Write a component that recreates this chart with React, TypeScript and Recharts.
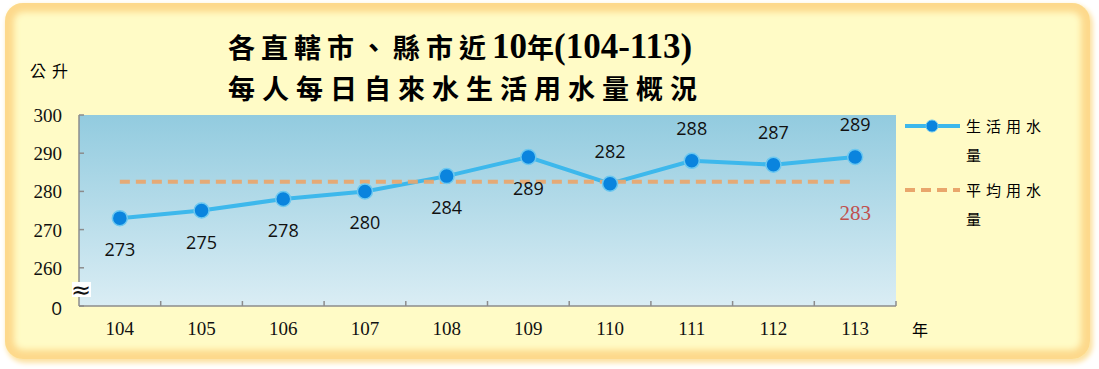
import React from "react";
import { LineChart, Line, XAxis, YAxis, CartesianGrid, LabelList } from "recharts";

// 年度 (民國)
const years = ["104", "105", "106", "107", "108", "109", "110", "111", "112", "113"];
// 每人每日生活用水量 (公升)
const usage = [273, 275, 278, 280, 284, 289, 282, 288, 287, 289];
// 平均用水量
const average = [282.5, 282.5, 282.5, 282.5, 282.5, 282.5, 282.5, 282.5, 282.5, 282.5];
const averageLabel = "283";
// 數字標籤放在點的上方或下方
const labelPos = ["below", "below", "below", "below", "below", "below", "above", "above", "above", "above"];
const yTicks = [250, 260, 270, 280, 290, 300];

const data = years.map((y, i) => ({ year: y, usage: usage[i], average: average[i] }));

const PLOT_W = 817;
const BAND = PLOT_W / years.length;
const AXIS = "#8c8c8c";
const CJK = "'Noto Sans CJK TC', 'Noto Sans CJK SC', sans-serif";
const SERIF = "'Liberation Serif', 'Noto Sans CJK TC', serif";

function XTick(props: any) {
  const { x, y, payload } = props;
  return (
    <g>
      {/* 刻度線畫在類別之間 */}
      <line x1={x + BAND / 2} x2={x + BAND / 2} y1={y - 14} y2={y - 19} stroke={AXIS} strokeWidth={1.5} />
      <text x={x} y={y + 15} textAnchor="middle" fontFamily={SERIF} fontSize={19} fill="#111">
        {payload.value}
      </text>
    </g>
  );
}

function YTick(props: any) {
  const { x, y, payload } = props;
  const v = payload.value;
  const ax = x + 17; // 軸線位置
  return (
    <g>
      <line x1={ax} x2={ax + 5} y1={y} y2={y} stroke={AXIS} strokeWidth={1.5} />
      <text x={x} y={v === 250 ? y + 9 : y + 7} textAnchor="end" fontFamily={v === 250 ? "'Open Sans', sans-serif" : SERIF} fontSize={19} fill="#111">
        {v === 250 ? "0" : v}
      </text>
      {v === 250 && (
        <g>
          {/* 斷軸符號 */}
          <rect x={ax - 7} y={y - 24} width={19} height={15} fill="#fff" />
          <text x={ax + 2} y={y - 8} textAnchor="middle" fontFamily="'DejaVu Sans', sans-serif" fontSize={24} fill="#111">
            ≈
          </text>
        </g>
      )}
    </g>
  );
}

function UsageLabel(props: any) {
  const { x, y, value, index } = props;
  const above = labelPos[index] === "above";
  return (
    <text x={x} y={above ? y - 26 : y + 38} textAnchor="middle" fontFamily="'Open Sans', sans-serif" fontSize={18} fill="#111">
      {value}
    </text>
  );
}

function AverageLabel(props: any) {
  const { x, y, index } = props;
  if (index !== years.length - 1) return null;
  return (
    <text x={x} y={y + 38} textAnchor="middle" fontFamily={SERIF} fontSize={21} fill="#C0504D">
      {averageLabel}
    </text>
  );
}

export default function App() {
  return (
    <div style={{ position: "absolute", left: 0, top: 0, width: 1099, height: 369, background: "#fff", overflow: "hidden" }}>
      {/* 黃色外框 */}
      <div
        style={{
          position: "absolute",
          left: 5,
          top: 3,
          width: 1085,
          height: 356,
          borderRadius: 18,
          background: "#FFFBC6",
          boxShadow: "inset 0 0 6px 9px #FDD98C, 2px 3px 5px 1px #FCE2A4",
        }}
      />

      {/* 標題 */}
      <div
        style={{
          position: "absolute",
          left: 228,
          top: 25,
          whiteSpace: "nowrap",
          fontFamily: SERIF,
          fontWeight: 700,
          fontSize: 35,
          color: "#000",
          lineHeight: "44px",
        }}
      >
        <span style={{ fontFamily: CJK, fontSize: 27, letterSpacing: 6 }}>各直轄市、縣市近</span>
        <span>10</span>
        <span style={{ fontFamily: CJK, fontSize: 27 }}>年</span>
        <span>(104-113)</span>
      </div>
      <div
        style={{
          position: "absolute",
          left: 228,
          top: 68,
          whiteSpace: "nowrap",
          fontFamily: CJK,
          fontWeight: 700,
          fontSize: 27,
          letterSpacing: 7,
          color: "#000",
          lineHeight: "40px",
        }}
      >
        每人每日自來水生活用水量概況
      </div>

      {/* 單位 */}
      <div style={{ position: "absolute", left: 30, top: 59, fontFamily: CJK, fontSize: 16, letterSpacing: 6, lineHeight: "22px" }}>公升</div>
      <div style={{ position: "absolute", left: 912, top: 318, fontFamily: CJK, fontSize: 16, lineHeight: "22px" }}>年</div>

      <LineChart
        width={1099}
        height={369}
        data={data}
        margin={{ top: 115, right: 203, bottom: 33, left: 19 }}
        style={{ position: "absolute", left: 0, top: 0 }}
      >
        <defs>
          <linearGradient id="plotBg" x1="0" y1="0" x2="0" y2="1">
            <stop offset="0%" stopColor="#92CBDF" />
            <stop offset="100%" stopColor="#DAEDF4" />
          </linearGradient>
        </defs>
        <CartesianGrid horizontal={false} vertical={false} fill="url(#plotBg)" fillOpacity={1} />
        <XAxis
          dataKey="year"
          height={30}
          padding={{ left: BAND / 2, right: BAND / 2 }}
          axisLine={{ stroke: AXIS, strokeWidth: 1.5 }}
          tickLine={false}
          tickSize={0}
          tickMargin={14}
          tick={<XTick />}
          interval={0}
        />
        <YAxis
          type="number"
          domain={[250, 300]}
          ticks={yTicks}
          width={60}
          allowDataOverflow
          axisLine={{ stroke: AXIS, strokeWidth: 1.5 }}
          tickLine={false}
          tickSize={0}
          tickMargin={17}
          tick={<YTick />}
          interval={0}
        />
        <Line
          dataKey="usage"
          stroke="#3DB8EC"
          strokeWidth={4}
          dot={{ r: 7.5, fill: "#0A84DE", stroke: "#6CC8F0", strokeWidth: 1.5 }}
          activeDot={false}
          isAnimationActive={false}
        >
          <LabelList dataKey="usage" content={<UsageLabel />} />
        </Line>
        <Line
          dataKey="average"
          stroke="#E9A66C"
          strokeOpacity={0.92}
          strokeWidth={4}
          strokeDasharray="10 6"
          dot={false}
          activeDot={false}
          isAnimationActive={false}
        >
          <LabelList dataKey="average" content={<AverageLabel />} />
        </Line>
      </LineChart>

      {/* 圖例 */}
      <div style={{ position: "absolute", left: 903, top: 111, fontFamily: CJK, fontSize: 15, letterSpacing: 5, lineHeight: "29px" }}>
        <div style={{ display: "flex", alignItems: "flex-start" }}>
          <svg width={60} height={29} style={{ flex: "none" }}>
            <line x1={2} x2={57} y1={15} y2={15} stroke="#3DB8EC" strokeWidth={4} />
            <circle cx={29} cy={15} r={6} fill="#0A84DE" stroke="#6CC8F0" strokeWidth={1} />
          </svg>
          <div style={{ width: 84, marginLeft: 3 }}>生活用水量</div>
        </div>
        <div style={{ display: "flex", alignItems: "flex-start", marginTop: 6 }}>
          <svg width={60} height={29} style={{ flex: "none" }}>
            <line x1={2} x2={57} y1={15} y2={15} stroke="#E9A66C" strokeWidth={4} strokeDasharray="10 6" />
          </svg>
          <div style={{ width: 84, marginLeft: 3 }}>平均用水量</div>
        </div>
      </div>
    </div>
  );
}
